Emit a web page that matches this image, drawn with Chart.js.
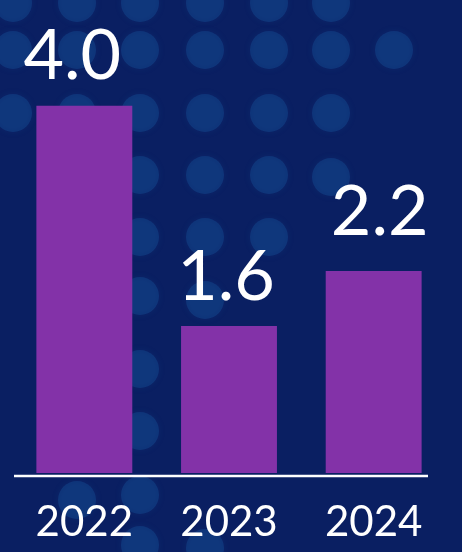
<!DOCTYPE html>
<html>
<head>
<meta charset="utf-8">
<script src="https://cdn.jsdelivr.net/npm/chart.js@4"></script>
<style>
  html, body { margin: 0; padding: 0; background: #0a1f62; }
  #wrap { width: 462px; height: 552px; }
</style>
</head>
<body>
<div id="wrap"><canvas id="myChart" width="462" height="552"></canvas></div>
<script>
// data
var years = ['2022', '2023', '2024'];
var values = [4.0, 1.6, 2.2];
var valueLabels = ['4.0', '1.6', '2.2'];

// label nudges (px)
var labelDx = [-12, -3, 6];
var labelLift = [27, 26, 36];

// background spots (decoration only)
var spots = [
  [13, 3], [77, 3], [140, 3], [205, 3], [269, 3], [331, 3],
  [13, 50], [77, 50], [140, 50], [205, 50], [269, 50], [331, 50], [394, 50],
  [13, 113], [77, 113], [140, 113], [205, 113], [269, 113], [331, 113],
  [140, 175], [205, 175], [269, 175], [331, 177],
  [140, 237], [205, 237], [269, 237],
  [140, 296], [205, 300],
  [140, 369], [140, 431],
  [77, 500], [140, 495], [140, 545], [205, 548]
];

var bgPlugin = {
  id: 'bg',
  beforeDraw: function (chart) {
    var ctx = chart.ctx;
    ctx.save();
    ctx.fillStyle = '#0a1f62';
    ctx.fillRect(0, 0, chart.width, chart.height);
    ctx.fillStyle = 'rgba(22, 78, 150, 0.42)';
    ctx.shadowColor = 'rgba(22, 78, 150, 0.42)';
    ctx.shadowBlur = 6;
    spots.forEach(function (p) {
      ctx.beginPath();
      ctx.arc(p[0], p[1], 19, 0, Math.PI * 2);
      ctx.fill();
    });
    ctx.restore();
  }
};

var labelPlugin = {
  id: 'labels',
  afterDatasetsDraw: function (chart) {
    var ctx = chart.ctx;
    var meta = chart.getDatasetMeta(0);
    var xs = chart.scales.x;
    ctx.save();
    // axis line
    ctx.strokeStyle = '#ffffff';
    ctx.lineWidth = 2.5;
    ctx.beginPath();
    ctx.moveTo(xs.left + 2, chart.chartArea.bottom + 3);
    ctx.lineTo(xs.right - 18, chart.chartArea.bottom + 3);
    ctx.stroke();
    // values above bars
    ctx.fillStyle = '#ffffff';
    ctx.font = '70px Lato';
    ctx.textAlign = 'center';
    ctx.textBaseline = 'alphabetic';
    meta.data.forEach(function (bar, i) {
      ctx.fillText(valueLabels[i], bar.x + labelDx[i], bar.y - labelLift[i]);
    });
    ctx.restore();
  }
};

var ctx = document.getElementById('myChart').getContext('2d');
var myChart = new Chart(ctx, {
  type: 'bar',
  data: {
    labels: years,
    datasets: [{
      data: values,
      backgroundColor: '#8332a8',
      borderWidth: 0,
      barPercentage: 0.663,
      categoryPercentage: 1
    }]
  },
  options: {
    responsive: false,
    animation: false,
    layout: { padding: { top: 14, left: 12, right: 16, bottom: 0 } },
    plugins: {
      legend: { display: false },
      tooltip: { enabled: false }
    },
    scales: {
      x: {
        grid: { display: false, drawTicks: false },
        border: { display: false },
        afterFit: function (scale) { scale.height = 79; },
        ticks: {
          color: '#ffffff',
          padding: 24,
          font: { family: 'Lato', size: 42 }
        }
      },
      y: {
        display: false,
        min: 0,
        max: 5
      }
    }
  },
  plugins: [bgPlugin, labelPlugin]
});
</script>
</body>
</html>
